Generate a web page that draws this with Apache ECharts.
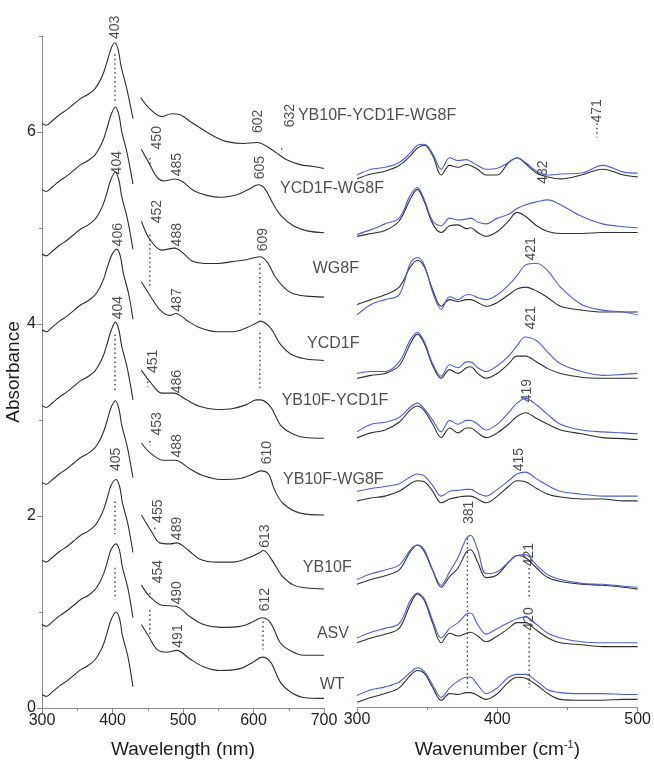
<!DOCTYPE html>
<html>
<head>
<meta charset="utf-8">
<script src="https://cdn.jsdelivr.net/npm/echarts@6.0.0/dist/echarts.min.js"></script>
<style>
html,body{margin:0;padding:0;background:#fff;}
#main{width:654px;height:764px;}
</style>
</head>
<body>
<div id="main"></div>
<script>
// sample names, top to bottom
var sampleNames = ['YB10F-YCD1F-WG8F','YCD1F-WG8F','WG8F','YCD1F','YB10F-YCD1F','YB10F-WG8F','YB10F','ASV','WT'];

// UV-vis, Soret region [nm, absorbance]
var soretA = [
  [[300,6.09],[306,6.07],[315,6.12],[325,6.18],[335,6.23],[345,6.29],[355,6.35],[365,6.39],[375,6.45],[382,6.53],[388,6.63],[393,6.75],[398,6.87],[403,6.93],[408,6.86],[412,6.69],[420,6.46],[429,6.14]],
  [[300,5.40],[306,5.38],[315,5.43],[325,5.49],[335,5.54],[345,5.60],[355,5.66],[365,5.70],[375,5.76],[382,5.84],[388,5.94],[393,6.06],[398,6.18],[404,6.26],[409,6.18],[413,6.01],[421,5.77],[429,5.46]],
  [[300,4.73],[306,4.71],[315,4.76],[325,4.82],[335,4.87],[345,4.93],[355,4.99],[365,5.03],[375,5.09],[382,5.17],[388,5.27],[393,5.39],[398,5.51],[404,5.58],[409,5.50],[413,5.33],[421,5.10],[429,4.78]],
  [[300,3.94],[306,3.92],[315,3.97],[325,4.03],[335,4.08],[345,4.14],[355,4.20],[365,4.24],[375,4.30],[382,4.38],[388,4.48],[393,4.60],[399,4.72],[406,4.78],[411,4.71],[415,4.54],[423,4.31],[429,4.05]],
  [[300,3.15],[306,3.13],[315,3.18],[325,3.24],[335,3.29],[345,3.35],[355,3.41],[365,3.45],[375,3.51],[382,3.59],[388,3.69],[393,3.81],[398,3.93],[404,4.02],[409,3.94],[413,3.77],[421,3.54],[429,3.21]],
  [[300,2.35],[306,2.33],[315,2.38],[325,2.44],[335,2.49],[345,2.55],[355,2.61],[365,2.65],[375,2.71],[382,2.79],[388,2.89],[393,3.01],[398,3.13],[404,3.20],[409,3.12],[413,2.95],[421,2.72],[429,2.40]],
  [[300,1.54],[306,1.52],[315,1.57],[325,1.63],[335,1.68],[345,1.74],[355,1.80],[365,1.84],[375,1.90],[382,1.98],[388,2.08],[393,2.20],[398,2.32],[405,2.38],[410,2.31],[414,2.14],[422,1.91],[429,1.62]],
  [[300,0.87],[306,0.85],[315,0.90],[325,0.96],[335,1.01],[345,1.07],[355,1.13],[365,1.17],[375,1.23],[382,1.31],[388,1.41],[393,1.53],[398,1.65],[405,1.71],[410,1.64],[414,1.47],[422,1.24],[429,0.94]],
  [[300,0.14],[306,0.12],[315,0.17],[325,0.23],[335,0.28],[345,0.34],[355,0.40],[365,0.44],[375,0.50],[382,0.58],[388,0.68],[393,0.80],[398,0.92],[405,1.00],[410,0.93],[414,0.76],[422,0.53],[429,0.22]]
];

// UV-vis, visible region (expanded) [nm, absorbance]
var visA = [
  [[440,6.36],[453,6.24],[470,6.16],[484,6.19],[496,6.18],[510,6.11],[529,6.02],[548,5.94],[562,5.90],[586,5.88],[605,5.89],[619,5.85],[633,5.78],[647,5.71],[666,5.66],[685,5.64],[700,5.62]],
  [[441,5.82],[453,5.66],[463,5.53],[472,5.49],[489,5.51],[500,5.48],[515,5.39],[534,5.34],[553,5.32],[567,5.33],[581,5.36],[595,5.41],[607,5.45],[616,5.41],[628,5.25],[640,5.12],[657,5.02],[676,4.97],[700,4.95]],
  [[441,5.07],[453,4.88],[470,4.77],[488,4.79],[500,4.74],[512,4.66],[530,4.63],[550,4.63],[570,4.65],[590,4.67],[609,4.70],[620,4.64],[630,4.50],[642,4.39],[655,4.32],[675,4.29],[700,4.28]],
  [[441,4.44],[453,4.30],[467,4.15],[481,4.09],[490,4.11],[505,4.04],[524,3.96],[548,3.92],[571,3.92],[590,3.96],[604,4.01],[610,4.03],[624,3.96],[638,3.79],[652,3.69],[671,3.64],[700,3.62]],
  [[441,3.52],[453,3.40],[470,3.28],[487,3.28],[505,3.21],[524,3.14],[548,3.11],[571,3.12],[590,3.16],[604,3.21],[610,3.21],[624,3.14],[638,2.95],[652,2.87],[671,2.82],[700,2.81]],
  [[441,2.76],[453,2.66],[472,2.58],[489,2.58],[510,2.49],[529,2.42],[553,2.38],[581,2.39],[600,2.44],[610,2.47],[621,2.44],[630,2.27],[642,2.13],[666,2.03],[700,2.01]],
  [[441,2.01],[456,1.83],[467,1.72],[482,1.71],[491,1.72],[508,1.64],[524,1.55],[548,1.52],[571,1.52],[595,1.57],[609,1.62],[614,1.64],[628,1.52],[640,1.38],[657,1.28],[676,1.25],[700,1.24]],
  [[441,1.28],[453,1.16],[470,1.07],[490,1.06],[510,0.95],[529,0.87],[553,0.84],[581,0.85],[600,0.90],[612,0.94],[624,0.89],[638,0.68],[652,0.60],[671,0.55],[700,0.55]],
  [[441,0.87],[451,0.75],[463,0.61],[477,0.58],[491,0.60],[510,0.51],[529,0.43],[553,0.39],[581,0.41],[600,0.48],[612,0.53],[624,0.48],[638,0.27],[652,0.17],[671,0.11],[700,0.10]]
];

// resonance Raman, common wavenumber grid (cm-1)
var ramanWn = [300,310,320,330,338,343,348,354,360,366,372,378,381,386,392,400,408,414,420,428,436,445,460,475,490,500];
// black traces (offset intensity)
var ramanBlack = [
  [5.51,5.56,5.59,5.65,5.75,5.83,5.86,5.75,5.55,5.65,5.63,5.66,5.65,5.61,5.55,5.55,5.68,5.73,5.67,5.57,5.53,5.51,5.55,5.61,5.55,5.53],
  [4.91,4.94,4.97,5.07,5.30,5.40,5.27,5.04,4.95,5.02,5.03,4.99,5.00,4.95,4.91,4.96,5.07,5.16,5.12,5.02,4.96,4.94,4.94,4.95,4.95,4.95],
  [4.20,4.25,4.30,4.38,4.59,4.66,4.59,4.35,4.18,4.25,4.23,4.25,4.25,4.22,4.18,4.22,4.30,4.36,4.38,4.34,4.27,4.18,4.14,4.12,4.12,4.12],
  [3.43,3.46,3.48,3.56,3.79,3.89,3.79,3.56,3.43,3.52,3.48,3.54,3.55,3.48,3.43,3.48,3.58,3.66,3.66,3.60,3.53,3.48,3.44,3.43,3.43,3.43],
  [2.81,2.86,2.89,2.97,3.10,3.14,3.09,2.95,2.81,2.91,2.86,2.91,2.91,2.86,2.81,2.86,2.95,3.03,3.07,3.01,2.95,2.89,2.85,2.81,2.80,2.79],
  [2.15,2.18,2.20,2.25,2.33,2.36,2.35,2.25,2.13,2.17,2.19,2.20,2.20,2.17,2.13,2.20,2.30,2.36,2.35,2.28,2.22,2.19,2.17,2.17,2.15,2.15],
  [1.28,1.33,1.37,1.43,1.62,1.69,1.62,1.42,1.25,1.36,1.45,1.62,1.64,1.51,1.35,1.38,1.51,1.58,1.56,1.45,1.35,1.31,1.28,1.27,1.25,1.23],
  [0.67,0.72,0.76,0.82,1.07,1.18,1.11,0.87,0.67,0.77,0.74,0.77,0.78,0.74,0.68,0.74,0.82,0.88,0.88,0.80,0.72,0.67,0.65,0.63,0.63,0.63],
  [0.05,0.10,0.14,0.20,0.33,0.38,0.35,0.20,0.07,0.14,0.13,0.15,0.15,0.12,0.08,0.14,0.26,0.31,0.30,0.23,0.14,0.08,0.07,0.07,0.08,0.08]
];
// blue traces
var ramanBlue = [
  [5.55,5.61,5.63,5.68,5.78,5.86,5.87,5.77,5.61,5.73,5.70,5.71,5.69,5.65,5.61,5.62,5.68,5.73,5.68,5.59,5.55,5.56,5.57,5.65,5.58,5.57],
  [4.93,4.98,5.04,5.10,5.34,5.42,5.29,5.07,5.02,5.10,5.08,5.09,5.10,5.06,5.04,5.10,5.14,5.20,5.24,5.27,5.29,5.24,5.12,5.04,5.01,5.00],
  [4.09,4.20,4.25,4.30,4.63,4.69,4.61,4.32,4.15,4.28,4.25,4.30,4.30,4.27,4.25,4.30,4.40,4.50,4.61,4.63,4.55,4.38,4.20,4.14,4.12,4.09],
  [3.48,3.50,3.50,3.60,3.83,3.91,3.81,3.58,3.45,3.57,3.54,3.60,3.60,3.54,3.50,3.56,3.66,3.77,3.86,3.82,3.70,3.58,3.50,3.46,3.47,3.48],
  [2.87,2.95,2.97,3.02,3.13,3.17,3.11,2.99,2.87,2.99,2.95,2.99,2.99,2.95,2.89,2.95,3.07,3.17,3.22,3.15,3.05,2.95,2.89,2.87,2.86,2.85],
  [2.25,2.28,2.30,2.33,2.40,2.43,2.41,2.31,2.20,2.25,2.26,2.27,2.27,2.23,2.20,2.27,2.36,2.43,2.45,2.38,2.31,2.25,2.22,2.20,2.20,2.20],
  [1.33,1.39,1.43,1.48,1.64,1.69,1.64,1.43,1.27,1.41,1.56,1.76,1.79,1.64,1.39,1.41,1.51,1.58,1.59,1.48,1.38,1.33,1.29,1.28,1.26,1.25],
  [0.72,0.78,0.82,0.87,1.11,1.19,1.13,0.90,0.72,0.82,0.88,0.97,0.98,0.86,0.76,0.82,0.88,0.92,0.94,0.86,0.77,0.72,0.68,0.67,0.67,0.67],
  [0.12,0.18,0.21,0.26,0.36,0.41,0.37,0.23,0.10,0.20,0.27,0.31,0.31,0.23,0.14,0.20,0.31,0.34,0.34,0.27,0.18,0.15,0.14,0.14,0.13,0.13]
];

// peak labels: [x, y, text]
var leftPeakLabels = [
  [403.5,7.09,'403'],[406,5.68,'404'],[408,4.93,'406'],[408,4.17,'404'],[405,2.59,'405'],
  [463,5.94,'450'],[463,5.17,'452'],[457,3.61,'451'],[463,2.96,'453'],[464.5,2.05,'455'],[464.5,1.42,'454'],
  [491.5,5.66,'485'],[491.5,4.93,'488'],[491.5,4.25,'487'],[491.5,3.40,'486'],[491.5,2.73,'488'],[491.5,1.87,'489'],[491.5,1.20,'490'],[493,0.75,'491'],
  [606,6.11,'602'],[652,6.17,'632'],[609,5.63,'605'],[613.5,4.88,'609'],[619,2.66,'610'],[616,1.79,'613'],[616,1.13,'612']
];
// dotted guides: [x, yFrom, yTo]
var leftGuides = [
  [403.5,6.81,6.32],[403.5,3.89,3.31],[403.5,2.15,1.81],[403.5,1.46,1.13],
  [453,5.73,5.65],[453,4.93,4.37],[450,3.40,3.35],[453,2.78,2.73],[460,1.88,1.83],[453,1.20,1.15],[453,1.02,0.75],
  [640,5.83,5.78],[609,4.63,4.07],[609,3.91,3.31],[613.5,0.90,0.61]
];
var nameAnchors = [[663,6.17],[637.6,5.41],[684,4.58],[676,3.80],[640,3.20],[642,2.38],[670,1.46],[690,0.77],[694,0.24]];

var rightPeakLabels = [
  [471,6.22,'471'],[433,5.58,'432'],[424,4.78,'421'],[424,4.06,'421'],[421,3.30,'419'],[415.6,2.58,'415'],
  [380,2.03,'381'],[423,1.59,'421'],[423,0.92,'420']
];
var rightGuides = [
  [471,6.09,5.94],[378.7,1.76,0.20],[422.7,1.45,1.13],[422.7,0.77,0.20]
];

var chart = echarts.init(document.getElementById('main'));
var FONT = 'Liberation Sans, Arial, sans-serif';
var lineColor = '#2e2e2e';
var blueColor = '#4d5fc6';
var axisGray = '#8c8c8c';

var series = [];
function addLine(data, xi, color, dotted){
    series.push({
        type: 'line', xAxisIndex: xi, yAxisIndex: xi === 0 ? 0 : 2,
        data: data, symbol: 'none', smooth: dotted ? false : 0.35, silent: true,
        clip: false,
        lineStyle: {color: color, width: dotted ? 1.3 : 1.1, type: dotted ? [1.5, 3] : 'solid'}
    });
}
for (var i = 0; i < sampleNames.length; i++) {
    addLine(soretA[i], 0, lineColor);
    addLine(visA[i], 0, lineColor);
    var k = [], b = [];
    for (var j = 0; j < ramanWn.length; j++) {
        k.push([ramanWn[j], ramanBlack[i][j]]);
        b.push([ramanWn[j], ramanBlue[i][j]]);
    }
    addLine(k, 1, lineColor);
    addLine(b, 1, blueColor);
}
leftGuides.forEach(function(g){ addLine([[g[0],g[1]],[g[0],g[2]]], 0, lineColor, true); });
rightGuides.forEach(function(g){ addLine([[g[0],g[1]],[g[0],g[2]]], 1, lineColor, true); });

function labelSeries(data, xi){
    return {
        type: 'scatter', xAxisIndex: xi, yAxisIndex: xi === 0 ? 0 : 2,
        data: data, symbolSize: 0, silent: true, clip: false,
        label: {show: true, position: 'inside', rotate: 90, fontSize: 14, color: '#1e1e1e',
            fontFamily: FONT, formatter: function(p){ return p.value[2]; }}
    };
}
series.push(labelSeries(leftPeakLabels, 0));
series.push(labelSeries(rightPeakLabels, 1));
series.push({
    type: 'scatter', xAxisIndex: 0, yAxisIndex: 0, symbolSize: 0, silent: true, clip: false,
    data: nameAnchors.map(function(a, i){ return [a[0], a[1], sampleNames[i]]; }),
    label: {show: true, position: 'right', distance: 0, fontSize: 16, color: '#1e1e1e',
        fontFamily: FONT, formatter: function(p){ return p.value[2]; }}
});

var option = {
    animation: false,
    backgroundColor: '#fff',
    textStyle: {fontFamily: FONT},
    grid: [
        {left: 42, top: 36, width: 282, height: 684},
        {left: 357, top: 36, width: 282, height: 684}
    ],
    xAxis: [
        {type: 'value', gridIndex: 0, min: 300, max: 700, interval: 100,
         name: 'Wavelength (nm)', nameLocation: 'middle', nameGap: 32,
         nameTextStyle: {fontSize: 19, color: '#1e1e1e'},
         axisLine: {lineStyle: {color: axisGray}},
         axisTick: {length: 5, lineStyle: {color: axisGray}},
         minorTick: {show: true, splitNumber: 2, length: 3, lineStyle: {color: axisGray}},
         axisLabel: {fontSize: 16, color: '#1e1e1e', margin: 5, showMinLabel: true, showMaxLabel: true},
         splitLine: {show: false}},
        {type: 'value', gridIndex: 1, min: 300, max: 500, interval: 100,
         name: '{a|Wavenumber (cm}{s|-1}{a|)}', nameLocation: 'middle', nameGap: 32,
         nameTextStyle: {rich: {a: {fontSize: 19, color: '#1e1e1e', fontFamily: FONT},
                                s: {fontSize: 11, color: '#1e1e1e', fontFamily: FONT, verticalAlign: 'top', padding: [0,0,10,0]}}},
         axisLine: {lineStyle: {color: axisGray}},
         axisTick: {length: 5, lineStyle: {color: axisGray}},
         minorTick: {show: true, splitNumber: 2, length: 3, lineStyle: {color: axisGray}},
         axisLabel: {fontSize: 16, color: '#1e1e1e', margin: 5, showMinLabel: true, showMaxLabel: true},
         splitLine: {show: false}}
    ],
    yAxis: [
        {type: 'value', gridIndex: 0, min: 0, max: 7, interval: 1,
         name: 'Absorbance', nameLocation: 'middle', nameGap: 17,
         nameTextStyle: {fontSize: 19, color: '#1e1e1e'},
         axisLine: {show: true, lineStyle: {color: axisGray}},
         axisTick: {show: true, length: 5, customValues: [0,2,4,6], lineStyle: {color: axisGray}},
         axisLabel: {fontSize: 16, color: '#1e1e1e', margin: 6, customValues: [0,2,4,6]},
         splitLine: {show: false}},
        {type: 'value', gridIndex: 0, min: 0, max: 7, interval: 1, position: 'left',
         axisLine: {show: false}, axisLabel: {show: false},
         axisTick: {show: true, length: 3, customValues: [1,3,5,7], lineStyle: {color: axisGray}},
         splitLine: {show: false}},
        {type: 'value', gridIndex: 1, min: 0, max: 7, show: false, splitLine: {show: false}}
    ],
    series: series
};
chart.setOption(option);
</script>
</body>
</html>
